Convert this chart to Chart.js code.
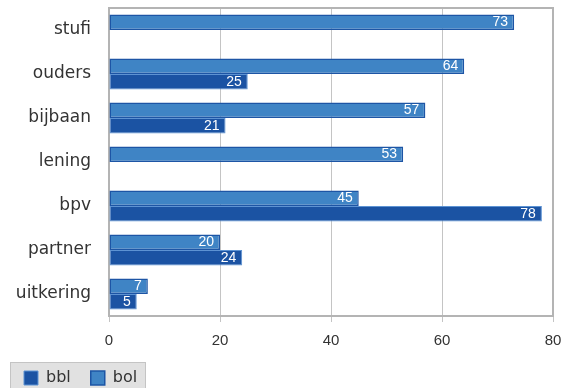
<!DOCTYPE html>
<html>
<head>
<meta charset="utf-8">
<script src="https://cdn.jsdelivr.net/npm/chart.js@4.4.0/dist/chart.umd.min.js"></script>
<style>
  html, body { margin: 0; padding: 0; background: #fff; }
  #wrap { width: 568px; height: 388px; }
</style>
</head>
<body>
<div id="wrap"><canvas id="myChart" width="568" height="388"></canvas></div>
<script>
const categorias = ['stufi', 'ouders', 'bijbaan', 'lening', 'bpv', 'partner', 'uitkering'];
const bol = [73, 64, 57, 53, 45, 20, 7];
const bbl = [null, 25, 21, null, 78, 24, 5];
const xTicks = [0, 20, 40, 60, 80];

const fuente = 'DejaVu Sans';
const fuenteNum = 'Liberation Sans';

// etiquetas blancas dentro del final de cada barra
const etiquetas = {
  id: 'etiquetas',
  afterDatasetsDraw(chart) {
    const c = chart.ctx;
    c.save();
    c.font = '14px ' + fuenteNum;
    c.fillStyle = '#ffffff';
    c.textAlign = 'right';
    c.textBaseline = 'middle';
    chart.data.datasets.forEach((ds, i) => {
      chart.getDatasetMeta(i).data.forEach((el, j) => {
        const v = ds.data[j];
        if (v == null) return;
        c.fillText(String(v), el.x - 6, el.y);
      });
    });
    c.restore();
  }
};

// marco del area y fondo de la leyenda
const marco = {
  id: 'marco',
  beforeDraw(chart) {
    const c = chart.ctx;
    c.save();
    c.fillStyle = '#e1e1e1';
    c.fillRect(10, 362, 135, 30);
    c.strokeStyle = '#c4c4c4';
    c.lineWidth = 1;
    c.strokeRect(10.5, 362.5, 135, 30);
    c.restore();
  },
  afterDraw(chart) {
    const c = chart.ctx;
    const a = chart.chartArea;
    c.save();
    c.strokeStyle = '#b4b4b4';
    c.lineWidth = 2;
    c.beginPath();
    c.moveTo(a.left, a.top);
    c.lineTo(a.right, a.top);
    c.lineTo(a.right, a.bottom);
    c.stroke();
    c.restore();
  }
};

new Chart(document.getElementById('myChart'), {
  type: 'bar',
  data: {
    labels: categorias,
    datasets: [{
      label: 'bol',
      data: bol,
      backgroundColor: '#3f84c5',
      borderColor: '#1d55a5',
      borderWidth: 1.5,
      borderSkipped: false
    }, {
      label: 'bbl',
      data: bbl,
      backgroundColor: '#1b53a3',
      borderColor: '#5d93d3',
      borderWidth: 1,
      borderSkipped: false
    }]
  },
  plugins: [etiquetas, marco],
  options: {
    indexAxis: 'y',
    responsive: false,
    animation: false,
    categoryPercentage: 0.7,
    barPercentage: 1.0,
    layout: { padding: { top: 8, right: 15, left: 4, bottom: 0 } },
    plugins: {
      tooltip: { enabled: false },
      legend: {
        position: 'bottom',
        align: 'start',
        reverse: true,
        maxHeight: 38,
        labels: {
          font: { family: fuente, size: 16 },
          color: '#333',
          boxWidth: 14,
          boxHeight: 14,
          padding: 20
        }
      }
    },
    scales: {
      x: {
        min: 0,
        max: 80,
        afterBuildTicks: s => { s.ticks = xTicks.map(v => ({ value: v })); },
        afterFit: s => { s.height = 34; s.paddingLeft = 0; s.paddingRight = 0; },
        grid: { color: '#c4c4c4', lineWidth: 1, tickLength: 6, drawTicks: true },
        border: { color: '#b4b4b4', width: 2 },
        ticks: { font: { family: fuenteNum, size: 15 }, color: '#333', padding: 10 }
      },
      y: {
        afterFit: s => { s.width = 105; s.paddingTop = 0; s.paddingBottom = 0; },
        grid: { display: false, drawTicks: false },
        border: { color: '#b4b4b4', width: 2 },
        ticks: { font: { family: fuente, size: 17 }, color: '#333', padding: 18 }
      }
    }
  }
});
</script>
</body>
</html>
